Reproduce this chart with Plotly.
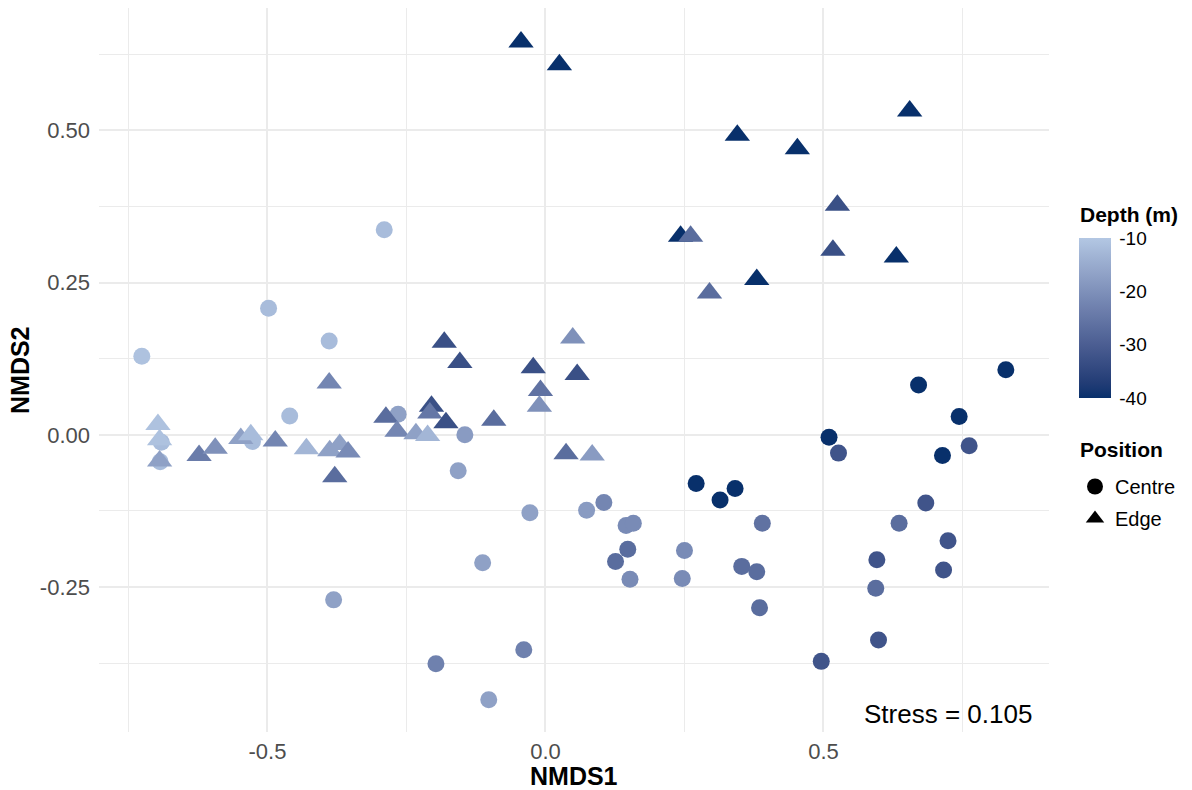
import numpy as np
import plotly.graph_objects as go

# ---- data ----
centre_x = [-0.726, -0.498, -0.290, -0.389, -0.460, -0.691, -0.693, -0.527, -0.265, -0.145,
            -0.157, -0.028, -0.113, -0.381, -0.197, -0.039, -0.102, 0.074, 0.105, 0.145,
            0.158, 0.148, 0.126, 0.152, 0.250, 0.246, 0.271, 0.314, 0.341, 0.390,
            0.353, 0.380, 0.385, 0.496, 0.510, 0.527, 0.671, 0.828, 0.744, 0.714,
            0.762, 0.684, 0.636, 0.724, 0.596, 0.716, 0.594, 0.599]
centre_y = [0.129, 0.208, 0.337, 0.154, 0.031, -0.012, -0.044, -0.011, 0.034, 0.000,
            -0.059, -0.128, -0.210, -0.271, -0.376, -0.353, -0.435, -0.124, -0.111, -0.149,
            -0.145, -0.188, -0.208, -0.237, -0.190, -0.236, -0.080, -0.107, -0.088, -0.145,
            -0.216, -0.225, -0.284, -0.372, -0.004, -0.030, 0.082, 0.107, 0.030, -0.034,
            -0.018, -0.112, -0.145, -0.174, -0.205, -0.222, -0.252, -0.337]
centre_depth = [-11, -12, -12, -12, -12, -12, -12, -12, -17, -18,
                -17, -17, -17, -17, -23, -23, -17, -18, -22, -21,
                -21, -27, -27, -21, -21, -21, -40, -40, -40, -26,
                -27, -27, -27, -32, -40, -32, -40, -40, -40, -40,
                -32, -32, -27, -32, -32, -32, -27, -32]

edge_x = [-0.697, -0.694, -0.694, -0.623, -0.594, -0.548, -0.530, -0.486, -0.430, -0.389,
          -0.388, -0.370, -0.355, -0.379, -0.287, -0.267, -0.233, -0.212, -0.205, -0.208,
          -0.179, -0.182, -0.154, -0.093, -0.022, -0.009, -0.011, 0.049, 0.057, 0.037,
          0.084, -0.044, 0.025, 0.345, 0.453, 0.655, 0.525, 0.517, 0.631, 0.243,
          0.261, 0.380, 0.295]
edge_y = [0.017, -0.008, -0.043, -0.034, -0.022, -0.006, 0.000, -0.010, -0.023, 0.085,
          -0.026, -0.016, -0.028, -0.069, 0.029, 0.006, 0.002, -0.001, 0.047, 0.036,
          0.020, 0.152, 0.119, 0.024, 0.110, 0.073, 0.047, 0.159, 0.099, -0.031,
          -0.033, 0.645, 0.608, 0.492, 0.470, 0.532, 0.377, 0.303, 0.292, 0.326,
          0.326, 0.255, 0.233]
edge_depth = [-11, -11, -17, -24, -20, -17, -12, -22, -13, -22,
              -17, -17, -21, -27, -27, -22, -17, -13, -33, -25,
              -33, -33, -33, -27, -33, -26, -20, -20, -33, -27,
              -18, -40, -40, -40, -40, -40, -33, -33, -40, -40,
              -27, -40, -27]

positions = ["Centre", "Edge"]
depth_ticks = [-40, -30, -20, -10]
depth_tick_labels = ["-40", "-30", "-20", "-10"]
stress_label = "Stress = 0.105"

# ---- colour scale: Lab interpolation like ggplot's scale_colour_gradient ----
def hex2rgb(h):
    h = h.lstrip('#')
    return np.array([int(h[i:i + 2], 16) for i in (0, 2, 4)], dtype=float) / 255.0

def srgb2lin(c):
    return np.where(c <= 0.04045, c / 12.92, ((c + 0.055) / 1.055) ** 2.4)

def lin2srgb(c):
    c = np.clip(c, 0, 1)
    return np.where(c <= 0.0031308, 12.92 * c, 1.055 * c ** (1 / 2.4) - 0.055)

M = np.array([[0.4124, 0.3576, 0.1805], [0.2126, 0.7152, 0.0722], [0.0193, 0.1192, 0.9505]])
Minv = np.linalg.inv(M)
WP = np.array([0.95047, 1.0, 1.08883])

def f(t):
    d = 6 / 29
    return np.where(t > d ** 3, np.cbrt(t), t / (3 * d * d) + 4 / 29)

def finv(t):
    d = 6 / 29
    return np.where(t > d, t ** 3, 3 * d * d * (t - 4 / 29))

def rgb2lab(rgb):
    xyz = M @ srgb2lin(rgb) / WP
    fx, fy, fz = f(xyz)
    return np.array([116 * fy - 16, 500 * (fx - fy), 200 * (fy - fz)])

def lab2rgb(lab):
    L_, a, b = lab
    fy = (L_ + 16) / 116
    fx = fy + a / 500
    fz = fy - b / 200
    xyz = np.array([finv(fx), finv(fy), finv(fz)]) * WP
    return lin2srgb(Minv @ xyz)

low_col, high_col = "#08306B", "#B3C7E3"
lab_lo, lab_hi = rgb2lab(hex2rgb(low_col)), rgb2lab(hex2rgb(high_col))
colorscale = []
for t in np.linspace(0, 1, 21):
    r, g, b = (lab2rgb(lab_lo + (lab_hi - lab_lo) * t) * 255).round().astype(int)
    colorscale.append([float(t), f"rgb({r},{g},{b})"])

FONT = "Liberation Sans, Arial, sans-serif"

fig = go.Figure()
fig.add_trace(go.Scatter(x=centre_x, y=centre_y, mode="markers", showlegend=False,
                         marker=dict(symbol="circle", size=17, color=centre_depth,
                                     coloraxis="coloraxis", line=dict(width=0))))
fig.add_trace(go.Scatter(x=edge_x, y=edge_y, mode="markers", showlegend=False,
                         marker=dict(symbol="triangle-up", size=22, color=edge_depth,
                                     coloraxis="coloraxis", line=dict(width=0))))
for name, sym in zip(positions, ["circle", "triangle-up"]):
    fig.add_trace(go.Scatter(x=[None], y=[None], mode="markers", name=name, legendgroup=name,
                             marker=dict(symbol=sym, size=16, color="black", line=dict(width=0))))

L, R, T, B = 99, 143, 8, 58
W, H = 1192, 790
pw, ph = W - L - R, H - T - B

def px2paper_x(px):
    return (px - L) / pw

def px2paper_y(py):
    return (H - B - py) / ph

fig.update_layout(
    width=W, height=H,
    margin=dict(l=L, r=R, t=T, b=B, pad=0),
    paper_bgcolor="white", plot_bgcolor="white",
    font=dict(family=FONT, color="black"),
    xaxis=dict(range=[-0.803, 0.9056], tickvals=[-0.5, 0.0, 0.5], ticktext=["-0.5", "0.0", "0.5"],
               showgrid=True, gridcolor="#EBEBEB", gridwidth=2,
               minor=dict(tickvals=[-0.75, -0.25, 0.25, 0.75], showgrid=True,
                          gridcolor="#EBEBEB", gridwidth=1),
               zeroline=False, showline=False, ticks="", ticklabelstandoff=4,
               tickfont=dict(size=22, color="#4D4D4D", family=FONT)),
    yaxis=dict(range=[-0.488, 0.701], tickvals=[-0.25, 0.0, 0.25, 0.5],
               ticktext=["-0.25", "0.00", "0.25", "0.50"],
               showgrid=True, gridcolor="#EBEBEB", gridwidth=2,
               minor=dict(tickvals=[-0.375, -0.125, 0.125, 0.375, 0.625], showgrid=True,
                          gridcolor="#EBEBEB", gridwidth=1),
               zeroline=False, showline=False, ticks="", ticklabelstandoff=8,
               tickfont=dict(size=22, color="#4D4D4D", family=FONT)),
    coloraxis=dict(
        colorscale=colorscale, cmin=-40, cmax=-10,
        colorbar=dict(
            title=dict(text=""),
            thickness=32, len=160, lenmode="pixels",
            x=px2paper_x(1079), xanchor="left", xpad=0,
            y=px2paper_y(318), yanchor="middle", ypad=0,
            outlinewidth=0, tickvals=depth_ticks, ticktext=depth_tick_labels,
            ticks="outside", ticklen=5,
            tickcolor="white", tickfont=dict(size=19, family=FONT, color="black"),
        ),
    ),
    legend=dict(
        font=dict(size=20, family=FONT, color="black"),
        x=px2paper_x(1075), xanchor="left", y=px2paper_y(467), yanchor="top",
        traceorder="grouped", tracegroupgap=3, bgcolor="rgba(0,0,0,0)",
    ),
    annotations=[
        dict(text="<b>NMDS1</b>", xref="paper", yref="paper", x=0.5, y=px2paper_y(776),
             xanchor="center", yanchor="middle", showarrow=False,
             font=dict(size=25, family=FONT, color="black")),
        dict(text="<b>NMDS2</b>", xref="paper", yref="paper", x=px2paper_x(20), y=0.5,
             xanchor="center", yanchor="middle", showarrow=False, textangle=-90,
             font=dict(size=25, family=FONT, color="black")),
        dict(text=stress_label, xref="x", yref="y", x=0.878, y=-0.458,
             xanchor="right", yanchor="middle", showarrow=False,
             font=dict(size=26, family=FONT, color="black")),
        dict(text="<b>Depth (m)</b>", xref="paper", yref="paper", x=px2paper_x(1078),
             y=px2paper_y(215), xanchor="left", yanchor="middle", showarrow=False,
             font=dict(size=21, family=FONT, color="black")),
        dict(text="<b>Position</b>", xref="paper", yref="paper", x=px2paper_x(1078),
             y=px2paper_y(450), xanchor="left", yanchor="middle", showarrow=False,
             font=dict(size=21, family=FONT, color="black")),
    ],
)

fig.write_html("out.html", config={"displayModeBar": False},
               post_script="document.body.style.margin='0px';document.body.style.overflow='hidden';")
